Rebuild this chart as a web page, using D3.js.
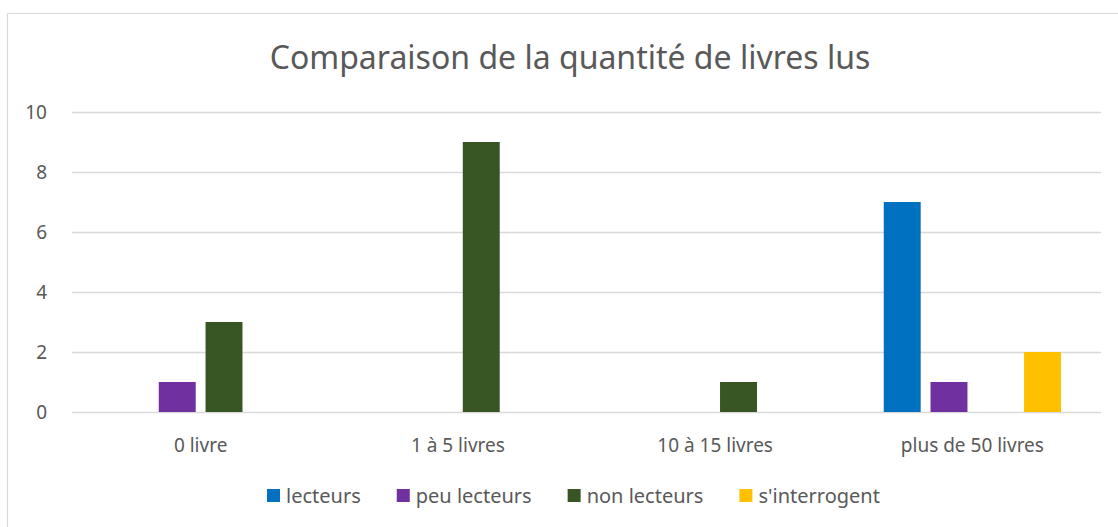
<!DOCTYPE html>
<html>
<head>
<meta charset="utf-8">
<script src="https://cdn.jsdelivr.net/npm/d3@7"></script>
<style>
  html, body { margin: 0; padding: 0; background: #fff; overflow: hidden; }
  svg text { font-family: "Noto Sans", "Open Sans", sans-serif; fill: #595959; }
</style>
</head>
<body>
<div id="chart"></div>
<script>
const categories = ["0 livre", "1 à 5 livres", "10 à 15 livres", "plus de 50 livres"];
const seriesNames = ["lecteurs", "peu lecteurs", "non lecteurs", "s'interrogent"];
const seriesColors = ["#0070C0", "#7030A0", "#375623", "#FFC000"];
const lecteurs = [0, 0, 0, 7];
const peuLecteurs = [1, 0, 0, 1];
const nonLecteurs = [3, 9, 1, 0];
const sInterrogent = [0, 0, 0, 2];
const yTicks = [0, 2, 4, 6, 8, 10];
const chartTitle = "Comparaison de la quantité de livres lus";

const seriesValues = [lecteurs, peuLecteurs, nonLecteurs, sInterrogent];

const width = 1118, height = 527;
const margin = { top: 112, right: 17, bottom: 115, left: 72 };
const innerWidth = width - margin.left - margin.right;
const innerHeight = height - margin.top - margin.bottom;

const svg = d3.select("#chart").append("svg")
    .attr("width", width)
    .attr("height", height);

// chart border: only top and left edges are visible in the frame
svg.append("line").attr("x1", 7.5).attr("y1", 13.5).attr("x2", width).attr("y2", 13.5)
    .attr("stroke", "#D9D9D9").attr("stroke-width", 1.2);
svg.append("line").attr("x1", 7.5).attr("y1", 13.5).attr("x2", 7.5).attr("y2", height)
    .attr("stroke", "#D9D9D9").attr("stroke-width", 1.2);

svg.append("text")
    .attr("x", 570).attr("y", 69)
    .attr("text-anchor", "middle")
    .style("font-size", "32px")
    .text(chartTitle);

const chartArea = svg.append("g").attr("transform", `translate(${margin.left},${margin.top})`);

const x0 = d3.scaleBand().domain(categories).range([0, innerWidth]).padding(0);
const x1 = d3.scaleBand().domain(seriesNames).range([40, x0.bandwidth() - 40]).paddingInner(0.21);
const y = d3.scaleLinear().domain([0, 10]).range([innerHeight, 0]);

// gridlines
chartArea.append("g").selectAll("line").data(yTicks).enter().append("line")
    .attr("x1", 0).attr("x2", innerWidth)
    .attr("y1", d => Math.round(y(d)) + 0.5).attr("y2", d => Math.round(y(d)) + 0.5)
    .attr("stroke", "#D9D9D9").attr("stroke-width", 1.3);

// y axis labels
const yAxis = chartArea.append("g").call(d3.axisLeft(y).tickValues(yTicks).tickSize(0).tickPadding(25));
yAxis.select(".domain").remove();
yAxis.selectAll("text").style("font-size", "19px").attr("fill", "#595959").style("font-family", null);

// x axis labels
const xAxis = chartArea.append("g").attr("transform", `translate(0,${innerHeight})`)
    .call(d3.axisBottom(x0).tickSize(0).tickPadding(27));
xAxis.select(".domain").remove();
xAxis.selectAll("text").style("font-size", "19px").attr("fill", "#595959").style("font-family", null);

// bars
const slice = chartArea.selectAll(".slice").data(categories).enter().append("g")
    .attr("transform", d => `translate(${x0(d)},0)`);

slice.selectAll("rect")
    .data((d, ci) => seriesNames.map((name, si) => ({ key: name, value: seriesValues[si][ci], color: seriesColors[si] })))
    .enter().append("rect")
    .filter(d => d.value > 0)
    .attr("x", d => x1(d.key))
    .attr("y", d => y(d.value))
    .attr("width", x1.bandwidth())
    .attr("height", d => y(0) - y(d.value))
    .attr("fill", d => d.color);

// legend
const legend = svg.append("g").attr("transform", "translate(267,496)");
let lx = 0;
seriesNames.forEach((name, i) => {
    const item = legend.append("g").attr("transform", `translate(${lx},0)`);
    item.append("rect").attr("x", 0).attr("y", -7).attr("width", 13).attr("height", 13).attr("fill", seriesColors[i]);
    const t = item.append("text").attr("x", 19).attr("dy", "0.35em").style("font-size", "20px").text(name);
    lx += 19 + t.node().getComputedTextLength() + 36;
});
</script>
</body>
</html>
